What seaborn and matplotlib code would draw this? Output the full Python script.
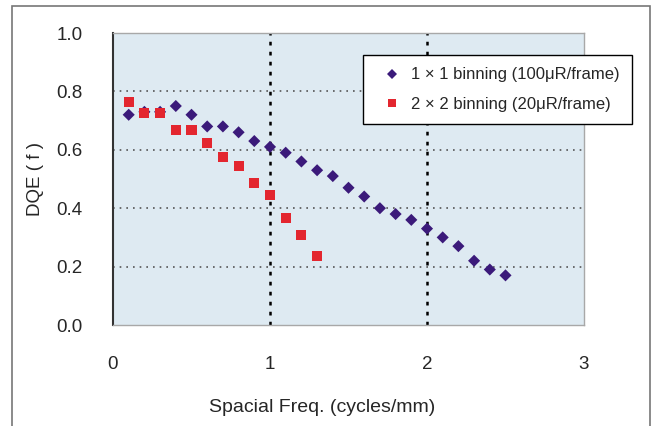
import numpy as np
import pandas as pd
import matplotlib.pyplot as plt
import seaborn as sns
from matplotlib.patches import Rectangle

sns.set_style('white')
plt.rcParams['font.family'] = ['Liberation Sans', 'DejaVu Sans']

freq_1x1 = [0.1, 0.2, 0.3, 0.4, 0.5, 0.6, 0.7, 0.8, 0.9, 1.0, 1.1, 1.2, 1.3,
            1.4, 1.5, 1.6, 1.7, 1.8, 1.9, 2.0, 2.1, 2.2, 2.3, 2.4, 2.5]
dqe_1x1 = [0.72, 0.73, 0.73, 0.75, 0.72, 0.68, 0.68, 0.66, 0.63, 0.61, 0.59, 0.56, 0.53,
           0.51, 0.47, 0.44, 0.40, 0.38, 0.36, 0.33, 0.30, 0.27, 0.22, 0.19, 0.17]
freq_2x2 = [0.1, 0.2, 0.3, 0.4, 0.5, 0.6, 0.7, 0.8, 0.9, 1.0, 1.1, 1.2, 1.3]
dqe_2x2 = [0.765, 0.725, 0.725, 0.667, 0.667, 0.622, 0.574, 0.543, 0.485, 0.444, 0.365, 0.307, 0.237]

lab1 = '1 × 1 binning (100μR/frame)'
lab2 = '2 × 2 binning (20μR/frame)'

df = pd.concat([
    pd.DataFrame({'freq': freq_1x1, 'dqe': dqe_1x1, 'series': lab1}),
    pd.DataFrame({'freq': freq_2x2, 'dqe': dqe_2x2, 'series': lab2}),
])

fig = plt.figure(figsize=(6.59, 4.26), dpi=100)
ax = fig.add_axes([113 / 659, 1 - 325 / 426, 471 / 659, 292 / 426])
ax.set_facecolor('#DEEAF2')

sns.scatterplot(data=df, x='freq', y='dqe', hue='series', style='series',
                markers={lab1: 'D', lab2: 's'},
                palette={lab1: '#3B1A7A', lab2: '#E3262F'},
                size='series', sizes={lab1: 38, lab2: 52},
                linewidth=0, ax=ax, zorder=3)

ax.set_xlim(0, 3)
ax.set_ylim(0, 1.0)
ax.set_xticks([0, 1, 2, 3])
ax.set_yticks([0.0, 0.2, 0.4, 0.6, 0.8, 1.0])
ax.set_yticklabels(['0.0', '0.2', '0.4', '0.6', '0.8', '1.0'])
ax.tick_params(length=0, labelsize=13.5)
ax.tick_params(axis='x', pad=22)
ax.tick_params(axis='y', pad=22)

for yv in [0.2, 0.4, 0.6, 0.8]:
    ax.axhline(yv, color='#555555', lw=1.2, ls=(0, (1, 3)), zorder=1)
for xv in [1, 2]:
    ax.axvline(xv, color='black', lw=1.8, ls=(0, (1.5, 2.5)), zorder=2)

for side in ['top', 'right', 'bottom']:
    ax.spines[side].set_color('#A8A8A8')
    ax.spines[side].set_linewidth(1)
ax.spines['left'].set_color('#333333')
ax.spines['left'].set_linewidth(1.5)

ax.set_xlabel('Spacial Freq. (cycles/mm)', fontsize=14)
ax.xaxis.set_label_coords(0.444, -0.255)
ax.set_ylabel('DQE ( f )', fontsize=13.5, labelpad=9)

leg = ax.legend(loc='upper left', bbox_to_anchor=(363 / 659, 1 - 55 / 426),
                bbox_transform=fig.transFigure, frameon=True, fancybox=False,
                fontsize=12, handletextpad=0.1, borderpad=0.75, labelspacing=0.85,
                markerscale=0.8, borderaxespad=0, title=None)
leg.get_frame().set_edgecolor('black')
leg.get_frame().set_linewidth(1)
leg.get_frame().set_facecolor('white')
leg.get_frame().set_alpha(1)

fig.patches.append(Rectangle((12 / 659, -0.01), 638 / 659, 1 - 6 / 426 + 0.01,
                             transform=fig.transFigure, fill=False,
                             edgecolor='#777777', lw=1.2))

fig.savefig('out.png', dpi=100)
